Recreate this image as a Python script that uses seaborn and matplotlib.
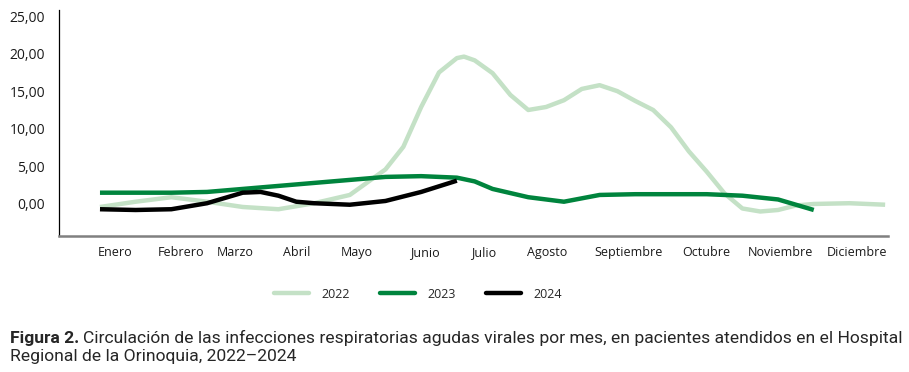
import pandas as pd
import matplotlib
matplotlib.use("Agg")
import matplotlib.pyplot as plt
import seaborn as sns
from matplotlib.lines import Line2D

# Months (labels) and series; x is in month units (0 = Enero)
meses = ["Enero", "Febrero", "Marzo", "Abril", "Mayo", "Junio", "Julio",
         "Agosto", "Septiembre", "Octubre", "Noviembre", "Diciembre"]

x_2022 = [0, 0.5, 1, 1.5, 2, 2.5, 3, 3.5, 4, 4.25, 4.5, 4.75, 5, 5.1, 5.25, 5.5, 5.75,
          6, 6.25, 6.5, 6.75, 7, 7.25, 7.5, 7.75, 8, 8.25, 8.5, 8.75, 9, 9.25,
          9.5, 9.75, 10, 10.5, 11]
y_2022 = [-0.4, 0.3, 0.9, 0.3, -0.4, -0.7, 0.1, 1.2, 4.6, 7.6, 12.9, 17.5, 19.4, 19.6, 19.1,
          17.4, 14.5, 12.5, 12.9, 13.8, 15.3, 15.8, 15.0, 13.7, 12.5, 10.2, 7.0,
          4.3, 1.4, -0.6, -1.0, -0.8, -0.2, 0.0, 0.1, -0.1]

x_2023 = [0, 1, 1.5, 2, 2.5, 3, 3.5, 4, 4.5, 5, 5.25, 5.5, 6, 6.5, 7, 7.5, 8,
          8.5, 9, 9.5, 10]
y_2023 = [1.5, 1.5, 1.6, 2.0, 2.4, 2.8, 3.2, 3.6, 3.7, 3.5, 3.0, 2.0, 0.9, 0.3,
          1.2, 1.3, 1.3, 1.3, 1.1, 0.6, -0.8]

x_2024 = [0, 0.5, 1, 1.5, 2, 2.25, 2.5, 2.75, 3, 3.5, 4, 4.5, 5]
y_2024 = [-0.7, -0.8, -0.7, 0.1, 1.5, 1.6, 1.1, 0.3, 0.1, -0.1, 0.4, 1.6, 3.1]

anios = ["2022", "2023", "2024"]
colores = ["#c4e1c6", "#00843d", "#000000"]

df = pd.concat([
    pd.DataFrame({"mes": x_2022, "valor": y_2022, "anio": "2022"}),
    pd.DataFrame({"mes": x_2023, "valor": y_2023, "anio": "2023"}),
    pd.DataFrame({"mes": x_2024, "valor": y_2024, "anio": "2024"}),
])

sns.set_style("white")
plt.rcParams["font.family"] = ["Open Sans", "DejaVu Sans"]

fig = plt.figure(figsize=(9.09, 3.72), dpi=100)
ax = fig.add_axes([59 / 909, 1 - 236 / 372, (888 - 59) / 909, (236 - 10) / 372])

sns.lineplot(data=df, x="mes", y="valor", hue="anio", palette=dict(zip(anios, colores)),
             linewidth=3.2, sort=False, estimator=None, legend=False, ax=ax,
             solid_capstyle="butt", solid_joinstyle="round")

ax.set_xlim(-0.574, 11.04)
ax.set_ylim(-4.26, 25.8)
ax.set_yticks([0, 5, 10, 15, 20, 25])
ax.set_yticklabels([f"{v:.2f}".replace(".", ",") for v in [0, 5, 10, 15, 20, 25]])
# label positions as printed in the original (they sit a bit off the data points)
ax.set_xticks([0.21, 1.13, 1.89, 2.76, 3.60, 4.55, 5.37, 6.26, 7.40, 8.49, 9.53, 10.61])
ax.set_xticklabels(meses)
ax.set_xlabel("")
ax.set_ylabel("")
ax.tick_params(axis="both", length=0, colors="#1a1a1a")
ax.tick_params(axis="x", pad=7, labelsize=9)
ax.tick_params(axis="y", pad=10, labelsize=10)
for s in ["top", "right"]:
    ax.spines[s].set_visible(False)
ax.spines["left"].set_color("#000000")
ax.spines["left"].set_linewidth(0.9)
ax.spines["bottom"].set_color("#808080")
ax.spines["bottom"].set_linewidth(1.8)
ax.grid(False)

handles = [Line2D([], [], color=c, lw=3.2) for c in colores]
fig.legend(handles, anios, loc="center", bbox_to_anchor=(418 / 909, 1 - 294 / 372),
           ncol=3, frameon=False, fontsize=9, handlelength=2.8, handletextpad=1.0,
           columnspacing=2.4)

# Caption, sized so the first line spans the same width as in the original
cap_font = ["Roboto", "DejaVu Sans"]
linea1 = ("Circulación de las infecciones respiratorias agudas virales por mes, "
          "en pacientes atendidos en el Hospital")
linea2 = "Regional de la Orinoquia, 2022–2024"
size = 12
t1 = fig.text(10 / 909, 1 - 343 / 372, "Figura 2.", fontsize=size, fontweight="bold",
              family=cap_font, va="baseline")
t2 = fig.text(0, 1 - 343 / 372, linea1, fontsize=size, family=cap_font, va="baseline")
t3 = fig.text(10 / 909, 1 - 361 / 372, linea2, fontsize=size, family=cap_font,
              va="baseline")
r = fig.canvas.get_renderer()
w = t1.get_window_extent(r).width + 4 + t2.get_window_extent(r).width
size = size * 887 / w
for t in (t1, t2, t3):
    t.set_fontsize(size)
bb = t1.get_window_extent(r)
t2.set_x((bb.x1 + 4) / 909)

fig.savefig("out.png", dpi=100)
